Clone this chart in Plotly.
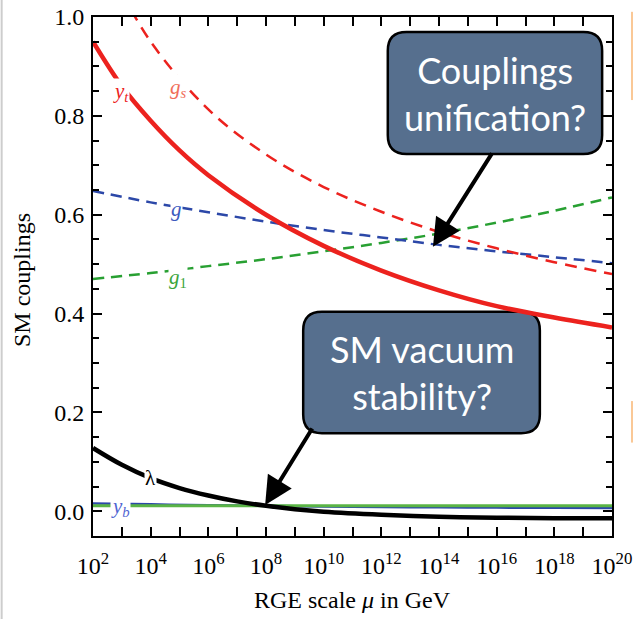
import plotly.graph_objects as go

# log10(mu/GeV) grid values
L_gs = [3.0, 4, 6, 8, 10, 12, 14, 16, 18, 20]
gs = [1.05, 0.95, 0.813, 0.722, 0.656, 0.606, 0.565, 0.532, 0.504, 0.48]

L_yt = [2, 3, 4, 5, 6, 8, 10, 12, 14, 16, 18, 20]
yt = [0.95, 0.86, 0.79, 0.73, 0.68, 0.60, 0.537, 0.487, 0.447, 0.415, 0.392, 0.372]

L_g = [2, 4, 6, 8, 10, 12, 14, 16, 18, 20]
g2 = [0.648, 0.625, 0.605, 0.586, 0.569, 0.554, 0.539, 0.526, 0.514, 0.502]
g1 = [0.470, 0.482, 0.496, 0.510, 0.526, 0.543, 0.562, 0.584, 0.608, 0.635]

L_lam = [2, 3, 4, 5, 6, 7, 8, 9, 10, 12, 14, 16, 18, 20]
lam = [0.128, 0.094, 0.067, 0.047, 0.032, 0.020, 0.011, 0.004, -0.001, -0.007, -0.011, -0.013, -0.014, -0.014]

L_yb = [2, 4, 6, 8, 10, 12, 14, 16, 18, 20]
yb = [0.016, 0.014, 0.012, 0.011, 0.0095, 0.0085, 0.008, 0.0075, 0.007, 0.0068]
ytau = [0.011, 0.011, 0.011, 0.011, 0.011, 0.011, 0.011, 0.011, 0.011, 0.011]

x_major_exp = list(range(2, 21, 2))
x_minor_exp = list(range(3, 20, 2))
y_ticks = [0.0, 0.2, 0.4, 0.6, 0.8, 1.0]

RED = "rgb(236,34,30)"
BLUE = "rgb(44,72,168)"
GREEN = "rgb(40,160,50)"
SERIF = "Liberation Serif"

def mu(Ls):
    return [10.0 ** v for v in Ls]

fig = go.Figure()
fig.add_trace(go.Scatter(x=mu(L_yb), y=yb, mode="lines", line=dict(color=BLUE, width=2.5, shape="spline")))
fig.add_trace(go.Scatter(x=mu(L_yb), y=ytau, mode="lines", line=dict(color="rgb(90,180,70)", width=3, shape="spline")))
fig.add_trace(go.Scatter(x=mu(L_lam), y=lam, mode="lines", line=dict(color="black", width=4.5, shape="spline")))
fig.add_trace(go.Scatter(x=mu(L_g), y=g1, mode="lines", line=dict(color=GREEN, width=2.5, dash="11px,7px", shape="spline")))
fig.add_trace(go.Scatter(x=mu(L_g), y=g2, mode="lines", line=dict(color=BLUE, width=2.5, dash="11px,7px", shape="spline")))
fig.add_trace(go.Scatter(x=mu(L_yt), y=yt, mode="lines", line=dict(color=RED, width=4.5, shape="spline")))
fig.add_trace(go.Scatter(x=mu(L_gs), y=gs, mode="lines", line=dict(color=RED, width=2.5, dash="12px,8px", shape="spline")))

def rrect(x0, y0, x1, y1, r):
    return (f"M {x0+r},{y0} L {x1-r},{y0} Q {x1},{y0} {x1},{y0+r} "
            f"L {x1},{y1-r} Q {x1},{y1} {x1-r},{y1} L {x0+r},{y1} "
            f"Q {x0},{y1} {x0},{y1-r} L {x0},{y0+r} Q {x0},{y0} {x0+r},{y0} Z")

BOX = "rgb(86,111,142)"
shapes = [
    dict(type="path", xref="paper", yref="paper", path=rrect(0.568, 0.736, 0.981, 0.971, 0.036),
         fillcolor=BOX, line=dict(color="black", width=2.5), layer="below"),
    dict(type="path", xref="paper", yref="paper", path=rrect(0.405, 0.198, 0.861, 0.432, 0.036),
         fillcolor=BOX, line=dict(color="black", width=2.5), layer="below"),
    dict(type="line", xref="paper", yref="paper", x0=-0.176, x1=-0.176, y0=-0.17, y1=1.04,
         line=dict(color="rgb(205,205,205)", width=2)),
    dict(type="line", xref="paper", yref="paper", x0=1.0385, x1=1.0385, y0=0.84, y1=1.01,
         line=dict(color="rgb(250,200,150)", width=2)),
    dict(type="line", xref="paper", yref="paper", x0=1.0385, x1=1.0385, y0=0.18, y1=0.26,
         line=dict(color="rgb(250,200,150)", width=2)),
]

lab_font = dict(family=SERIF, size=21)
annotations = [
    dict(x=2.97, y=0.848, text="<i>y<sub>t</sub></i>", font=dict(lab_font, color=RED)),
    dict(x=4.95, y=0.856, text="<i>g<sub>s</sub></i>", font=dict(lab_font, color="rgb(240,110,90)")),
    dict(x=4.91, y=0.612, text="<i>g</i>", font=dict(lab_font, color="rgb(60,90,190)")),
    dict(x=4.95, y=0.472, text="<i>g</i><sub>1</sub>", font=dict(lab_font, color="rgb(60,165,60)")),
    dict(x=3.98, y=0.067, text="λ", font=dict(lab_font, color="black")),
    dict(x=2.94, y=0.008, text="<i>y<sub>b</sub></i>", font=dict(lab_font, color="rgb(80,100,210)")),
]
for a in annotations:
    a.update(xref="x", yref="y", showarrow=False, bgcolor="white", borderpad=0)

annotations += [
    dict(x=13.79, y=0.535, xref="x", yref="y", ax=60, ay=-95, text="", showarrow=True,
         arrowhead=2, arrowsize=1.4, arrowwidth=4, arrowcolor="black"),
    dict(x=7.97, y=0.0127, xref="x", yref="y", ax=48, ay=-78, text="", showarrow=True,
         arrowhead=2, arrowsize=1.4, arrowwidth=4, arrowcolor="black"),
    dict(x=0.7745, y=0.8535, xref="paper", yref="paper", text="Couplings<br>unification?",
         xanchor="center", yanchor="middle",
         showarrow=False, font=dict(family="Lato", size=36, color="white")),
    dict(x=0.633, y=0.315, xref="paper", yref="paper", text="SM vacuum<br>stability?",
         xanchor="center", yanchor="middle",
         showarrow=False, font=dict(family="Lato", size=36, color="white")),
    dict(x=0.5, y=-0.123, xref="paper", yref="paper", text="RGE scale <i>μ</i> in GeV",
         xanchor="center", yanchor="middle",
         showarrow=False, font=dict(family=SERIF, size=24, color="black")),
    dict(x=-0.137, y=0.493, xref="paper", yref="paper", text="SM couplings", textangle=-90,
         xanchor="center", yanchor="middle",
         showarrow=False, font=dict(family=SERIF, size=24, color="black")),
]

fig.update_layout(
    width=633, height=619,
    margin=dict(l=93, r=21, t=17, b=83),
    paper_bgcolor="white", plot_bgcolor="white",
    showlegend=False,
    shapes=shapes,
    annotations=annotations,
    xaxis=dict(type="log", range=[2, 20], showgrid=False, zeroline=False, automargin=False,
               showline=True, linecolor="black", linewidth=2, mirror="ticks",
               ticks="inside", ticklen=9, tickwidth=1.5, tickcolor="black",
               tickvals=[10.0 ** e for e in x_major_exp],
               ticktext=[f"10<sup>{e}</sup>" for e in x_major_exp],
               ticklabelstandoff=7,
               tickfont=dict(family=SERIF, size=24, color="black"),
               minor=dict(tickmode="array", tickvals=[10.0 ** e for e in x_minor_exp],
                          ticks="inside", ticklen=9, tickwidth=1.5, tickcolor="black")),
    yaxis=dict(range=[-0.05, 1.0], showgrid=False, zeroline=False, automargin=False,
               showline=True, linecolor="black", linewidth=2, mirror="ticks",
               ticks="inside", ticklen=9, tickwidth=1.5, tickcolor="black",
               tickvals=y_ticks, ticktext=[f"{v:.1f}" for v in y_ticks],
               ticklabelstandoff=2,
               tickfont=dict(family=SERIF, size=24, color="black"),
               minor=dict(dtick=0.05, ticks="inside", ticklen=6, tickwidth=1.5, tickcolor="black")),
)

fig.write_html("out.html")
